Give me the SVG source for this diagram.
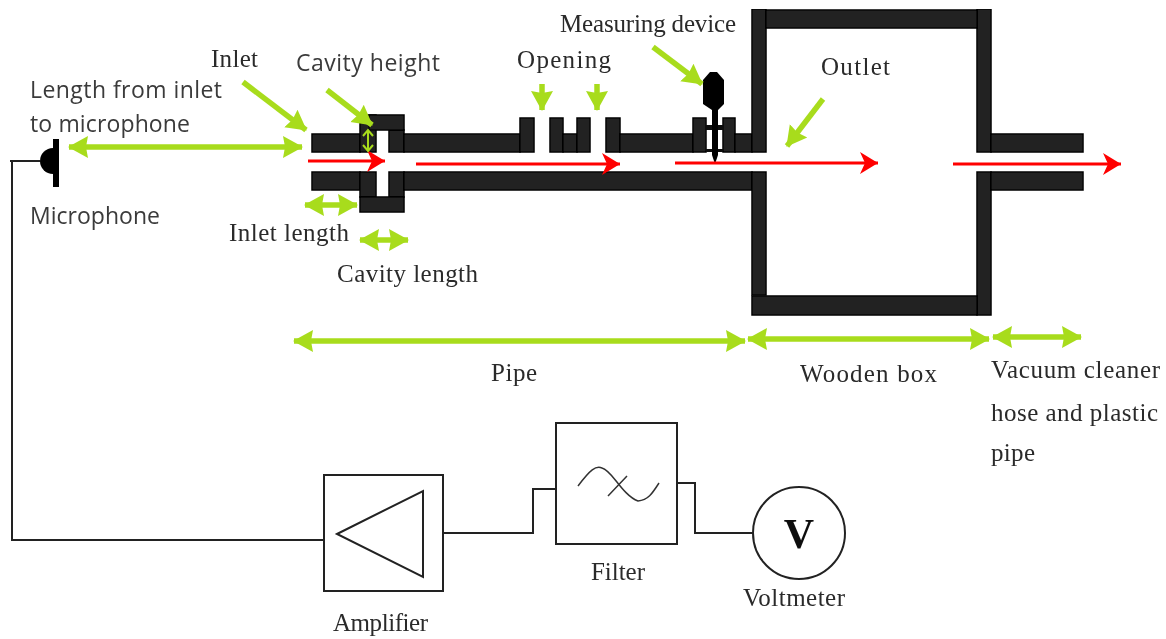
<svg xmlns="http://www.w3.org/2000/svg" width="1166" height="639" viewBox="0 0 1166 639">
<style>
.wall{fill:#222;stroke:#000;stroke-width:1.5}
.g{stroke:#a8dc1e;stroke-width:5.5;fill:none}
.a{marker-end:url(#gh)}
.d{marker-start:url(#gs);marker-end:url(#gh)}
.r{stroke:#f00;stroke-width:3;fill:none;marker-end:url(#rh)}
.w{fill:none;stroke:#222;stroke-width:2}
.s{font-family:"Open Sans","Noto Sans",sans-serif;font-size:23px;fill:#3a3a3a}
.t{font-family:"Liberation Serif",serif;font-size:25px;fill:#2a2a2a}
</style>
<defs>
<filter id="soft" x="0" y="0" width="100%" height="100%"><feGaussianBlur stdDeviation="0.45"/></filter>
<marker id="gh" markerUnits="userSpaceOnUse" markerWidth="24" markerHeight="26" refX="19" refY="13" orient="auto"><path d="M0 2L20 13L0 24L2 13Z" fill="#a8dc1e"/></marker>
<marker id="gs" markerUnits="userSpaceOnUse" markerWidth="24" markerHeight="26" refX="1" refY="13" orient="auto"><path d="M20 2L0 13L20 24L18 13Z" fill="#a8dc1e"/></marker>
<marker id="rh" markerUnits="userSpaceOnUse" markerWidth="22" markerHeight="24" refX="18" refY="12" orient="auto"><path d="M0 1L18 12L0 23L5 12Z" fill="#f00"/></marker>
</defs>
<rect width="1166" height="639" fill="#fff"/>
<g filter="url(#soft)">
<g id="pipe">
<rect class="wall" x="312" y="134" width="48" height="18"/>
<rect class="wall" x="312" y="172" width="48" height="18"/>
<rect class="wall" x="360" y="115" width="16" height="37"/>
<rect class="wall" x="389" y="130" width="15" height="22"/>
<rect class="wall" x="369" y="115" width="35" height="15"/>
<rect class="wall" x="360" y="172" width="16" height="25"/>
<rect class="wall" x="389" y="172" width="15" height="25"/>
<rect class="wall" x="360" y="197" width="44" height="15"/>
<rect class="wall" x="404" y="134" width="116" height="18"/>
<rect class="wall" x="520" y="118" width="14" height="34"/>
<rect class="wall" x="550" y="118" width="13" height="34"/>
<rect class="wall" x="563" y="134" width="14" height="18"/>
<rect class="wall" x="577" y="118" width="13" height="34"/>
<rect class="wall" x="606" y="118" width="14" height="34"/>
<rect class="wall" x="620" y="134" width="73" height="18"/>
<rect class="wall" x="693" y="118" width="13" height="34"/>
<rect class="wall" x="723" y="118" width="12" height="34"/>
<rect class="wall" x="735" y="134" width="17" height="18"/>
<rect class="wall" x="404" y="172" width="348" height="18"/>
</g>
<g id="wooden-box">
<rect class="wall" x="752" y="9" width="14" height="143"/>
<rect class="wall" x="752" y="172" width="14" height="123"/>
<rect class="wall" x="977" y="9" width="14" height="143"/>
<rect class="wall" x="977" y="172" width="14" height="143"/>
<rect class="wall" x="766" y="10" width="211" height="18"/>
<rect class="wall" x="752" y="296" width="225" height="19"/>
</g>
<g id="hose">
<rect class="wall" x="991" y="134" width="92" height="18"/>
<rect class="wall" x="991" y="172" width="92" height="18"/>
</g>
<g id="measuring-device">
<rect x="706" y="125" width="17" height="5" fill="#111"/>
<rect x="706" y="149" width="17" height="3" fill="#111"/>
<path d="M710 72H717L724 80V104L718 110V155L715 164L712 155V110L703 104V80Z" fill="#000"/>
</g>
<g id="microphone">
<path d="M53 148A13 13 0 0 0 53 174Z" fill="#000"/>
<rect x="53" y="139" width="6" height="48" fill="#000"/>
</g>
<g id="amplifier">
<rect x="324" y="475" width="119" height="116" fill="#fff" stroke="#222" stroke-width="2"/>
<path class="w" d="M337 534L423 491V577Z"/>
</g>
<g id="filter">
<rect x="556" y="423" width="121" height="121" fill="#fff" stroke="#222" stroke-width="2"/>
<path d="M578 486C590 470 596 465 602 468C612 470 622 495 638 501C648 500 652 494 659 483M608 496L627 476" fill="none" stroke="#333" stroke-width="1.5"/>
</g>
<g id="voltmeter">
<circle cx="799" cy="533" r="46" fill="#fff" stroke="#222" stroke-width="2"/>
<text x="799" y="548" text-anchor="middle" style="font-family:'Liberation Serif',serif;font-size:42px;font-weight:bold;fill:#111">V</text>
</g>
<g id="connectors">
<path class="w" d="M40 161H10M12 161V540H324"/>
<path class="w" d="M443 533H533V489H556"/>
<path class="w" d="M677 483H695V533H753"/>
<path class="r" d="M308 161H385"/>
<path class="r" d="M416 164H620"/>
<path class="r" d="M675 163H878"/>
<path class="r" d="M953 164H1121"/>
<path class="g a" d="M243 82L306 130"/>
<path class="g a" d="M327 90L372 125"/>
<path class="g d" d="M69 147H302"/>
<path class="g d" d="M305 205H357"/>
<path class="g d" d="M360 240H408"/>
<path d="M368 131V150M363 136L368 130L373 136M363 145L368 151L373 145" stroke="#a8dc1e" stroke-width="2" fill="none"/>
<path class="g a" d="M542 84V110"/>
<path class="g a" d="M597 84V110"/>
<path class="g a" d="M653 47L702 84"/>
<path class="g a" d="M823 99L787 146"/>
<path class="g d" d="M294 341H745"/>
<path class="g d" d="M748 339H989"/>
<path class="g d" d="M993 337H1081"/>
</g>
<g id="labels">
<text class="t" x="211" y="67" textLength="47">Inlet</text>
<text class="s" x="30" y="98" textLength="192">Length from inlet</text>
<text class="s" x="30" y="132" textLength="160">to microphone</text>
<text class="s" x="296" y="71" textLength="144">Cavity height</text>
<text class="t" x="517" y="68" textLength="94">Opening</text>
<text class="t" x="560" y="32" textLength="176">Measuring device</text>
<text class="t" x="821" y="75" textLength="69">Outlet</text>
<text class="s" x="30" y="224" textLength="130">Microphone</text>
<text class="t" x="229" y="241" textLength="120">Inlet length</text>
<text class="t" x="337" y="282" textLength="141">Cavity length</text>
<text class="t" x="491" y="381" textLength="46">Pipe</text>
<text class="t" x="800" y="382" textLength="137">Wooden box</text>
<text class="t" x="991" y="378" textLength="169">Vacuum cleaner</text>
<text class="t" x="991" y="421" textLength="167">hose and plastic</text>
<text class="t" x="991" y="461" textLength="44">pipe</text>
<text class="t" x="591" y="580" textLength="54">Filter</text>
<text class="t" x="333" y="631" textLength="95">Amplifier</text>
<text class="t" x="743" y="606" textLength="102">Voltmeter</text>
</g>
</g>
</svg>
